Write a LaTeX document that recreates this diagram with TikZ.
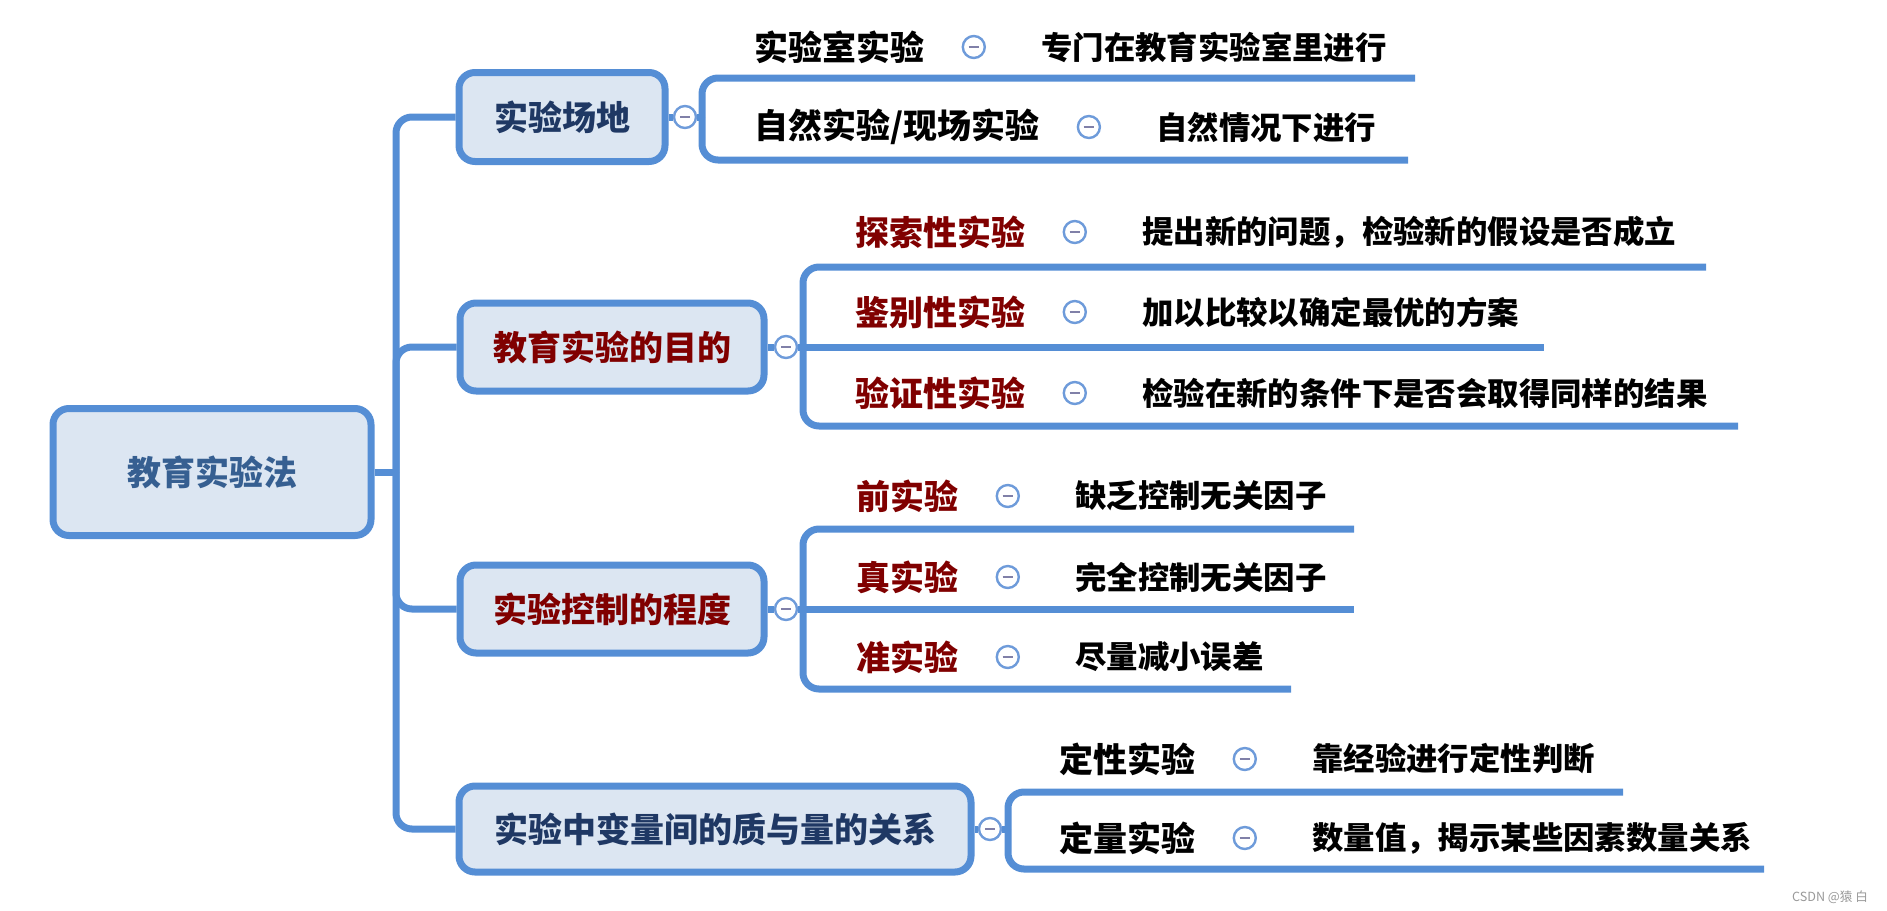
\documentclass[tikz,border=0pt]{standalone}
\usepackage{fontspec}
\newfontfamily\cjk{Noto Sans CJK SC}
\definecolor{lineblue}{RGB}{85,142,213}
\definecolor{boxfill}{RGB}{220,230,242}
\definecolor{navy}{RGB}{31,56,100}
\definecolor{rootblue}{RGB}{54,95,145}
\definecolor{darkred}{RGB}{128,0,0}
\definecolor{circblue}{RGB}{110,155,218}
\definecolor{minuscol}{RGB}{128,128,168}
\tikzset{
  conn/.style={draw=lineblue, line width=3.5pt},
  elbow/.style={conn, rounded corners=8pt},
  lvl/.style={draw=lineblue, line width=3.5pt, fill=boxfill, rounded corners=8pt,
    inner sep=0pt, font=\cjk\bfseries\fontsize{17}{20}\selectfont},
  coll/.style={circle, draw=circblue, line width=1.2pt, fill=white, inner sep=0pt,
    minimum size=11pt,
    path picture={\draw[minuscol, line width=1.1pt]
      ([xshift=-2.6pt]path picture bounding box.center) --
      ([xshift=2.6pt]path picture bounding box.center);}},
  lab/.style={anchor=west, inner sep=0pt, font=\cjk\bfseries\fontsize{17}{20}\selectfont, text=black},
  redlab/.style={lab, text=darkred},
  desc/.style={anchor=west, inner sep=0pt, font=\cjk\bfseries\fontsize{15.7}{19}\selectfont, text=black},
}
\newcommand{\rowitem}[5]{%
  \node[#2] (#1l) at #3 {#4};
  \node[coll] (#1o) at ([xshift=24.5pt]#1l.east) {};
  \node[desc] (#1d) at ([xshift=33.5pt]#1o.center) {#5};
}
\begin{document}
\begin{tikzpicture}[x=0.5pt,y=-0.5pt]
\useasboundingbox (0,0) rectangle (1887,911);

% root and level-1 boxes
\node[lvl, minimum width=159pt, minimum height=63.5pt, text=rootblue] (root) at (212,472) {教育实验法};
\node[lvl, minimum width=103pt, minimum height=44.5pt, text=navy] (b1) at (562,117) {实验场地};
\node[lvl, minimum width=152pt, minimum height=44pt, text=darkred] (b2) at (612,347) {教育实验的目的};
\node[lvl, minimum width=152pt, minimum height=44pt, text=darkred] (b3) at (612,609) {实验控制的程度};
\node[lvl, minimum width=256pt, minimum height=43pt, text=navy] (b4) at (715,829) {实验中变量间的质与量的关系};

% trunk
\coordinate (tj) at (396,472);
\draw[conn] (root.east) -- (tj);
\draw[elbow] (tj) |- (b1.west);
\draw[elbow] (tj) |- (b2.west);
\draw[elbow] (tj) |- (b3.west);
\draw[elbow] (tj) |- (b4.west);

% collapse circles of level-1
\node[coll] (c1) at (685,117) {};
\node[coll] (c2) at (786,347) {};
\node[coll] (c3) at (786,609) {};
\node[coll] (c4) at (990,829) {};
\draw[conn] (b1.east) -- (c1.west);
\draw[conn] (b2.east) -- (c2.west);
\draw[conn] (b3.east) -- (c3.west);
\draw[conn] (b4.east) -- (c4.west);

% branch 1
\coordinate (k1) at (702,117);
\coordinate (u1a) at (1415,78);
\coordinate (u1b) at (1408,160);
\draw[conn] (c1.east) -- (k1);
\draw[elbow] (k1) |- (u1a);
\draw[elbow] (k1) |- (u1b);
\rowitem{r11}{lab}{(754,47)}{实验室实验}{专门在教育实验室里进行}
\rowitem{r12}{lab}{(754,127)}{自然实验/现场实验}{自然情况下进行}

% branch 2
\coordinate (k2) at (803,347);
\coordinate (u2a) at (1706,267);
\coordinate (u2b) at (1544,347);
\coordinate (u2c) at (1738,426);
\draw[conn] (c2.east) -- (u2b);
\draw[elbow] (k2) |- (u2a);
\draw[elbow] (k2) |- (u2c);
\rowitem{r21}{redlab}{(855,232)}{探索性实验}{提出新的问题，检验新的假设是否成立}
\rowitem{r22}{redlab}{(855,312)}{鉴别性实验}{加以比较以确定最优的方案}
\rowitem{r23}{redlab}{(855,393)}{验证性实验}{检验在新的条件下是否会取得同样的结果}

% branch 3
\coordinate (k3) at (803,609);
\coordinate (u3a) at (1354,529);
\coordinate (u3b) at (1354,609);
\coordinate (u3c) at (1291,689);
\draw[conn] (c3.east) -- (u3b);
\draw[elbow] (k3) |- (u3a);
\draw[elbow] (k3) |- (u3c);
\rowitem{r31}{redlab}{(856,496)}{前实验}{缺乏控制无关因子}
\rowitem{r32}{redlab}{(856,577)}{真实验}{完全控制无关因子}
\rowitem{r33}{redlab}{(856,657)}{准实验}{尽量减小误差}

% branch 4
\coordinate (k4) at (1008,829);
\coordinate (u4a) at (1623,792);
\coordinate (u4b) at (1764,869);
\draw[conn] (c4.east) -- (k4);
\draw[elbow] (k4) |- (u4a);
\draw[elbow] (k4) |- (u4b);
\rowitem{r41}{lab}{(1059,759)}{定性实验}{靠经验进行定性判断}
\rowitem{r42}{lab}{(1059,838)}{定量实验}{数量值，揭示某些因素数量关系}

% watermark
\node[inner sep=0pt, text=gray!80, font=\cjk\fontsize{6.3}{8}\selectfont] (wm) at (1830,897) {CSDN @猿 白};
\end{tikzpicture}
\end{document}
